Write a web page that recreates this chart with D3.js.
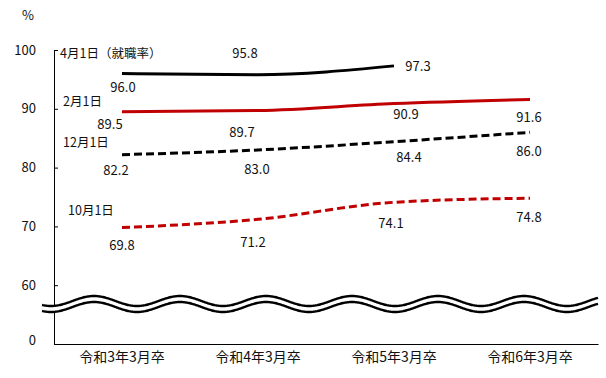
<!DOCTYPE html>
<html><head><meta charset="utf-8">
<script src="https://cdn.jsdelivr.net/npm/d3@7"></script>
<style>
body{margin:0;background:#fff;}
text{font-family:"Noto Sans CJK JP","Noto Sans",sans-serif;fill:#111;}
</style></head>
<body><svg id="c" width="606" height="378"></svg>
<script>
// ---- data ----
const categories = ["令和3年3月卒","令和4年3月卒","令和5年3月卒","令和6年3月卒"];
const seriesNames = ["4月1日（就職率）","2月1日","12月1日","10月1日"];
const apr1 = [96.0, 95.8, 97.3, null];
const feb1 = [89.5, 89.7, 90.9, 91.6];
const dec1 = [82.2, 83.0, 84.4, 86.0];
const oct1 = [69.8, 71.2, 74.1, 74.8];
const yTickValues = [50, 60, 70, 80, 90, 100];
const yTickLabels = ["0", "60", "70", "80", "90", "100"];
const yUnit = "%";

// ---- layout / style (not data) ----
const svg = d3.select("#c");
const x = d3.scaleBand().domain(categories).range([54, 598]).padding(0);
const y = d3.scaleLinear().domain([50, 100]).range([344, 50]);
const cx = c => x(c) + x.bandwidth() / 2;

const series = [
  {name: seriesNames[0], values: apr1, color: "#000", dash: null,
   nameX: 60, nameY: 54,
   off: [[1,14],[-13,-21],[24,1],null]},
  {name: seriesNames[1], values: feb1, color: "#c00000", dash: null,
   nameX: 63, nameY: 102,
   off: [[-12,13],[-16,22],[12,11],[-1,18]]},
  {name: seriesNames[2], values: dec1, color: "#000", dash: "8,4",
   nameX: 63, nameY: 143,
   off: [[-6,16],[-1,19],[15,16],[-1,19]]},
  {name: seriesNames[3], values: oct1, color: "#c00000", dash: "8,4",
   nameX: 68, nameY: 211,
   off: [[0,18],[-5,23],[-3,21],[-1,19]]}
];

// y axis
const yAxis = d3.axisLeft(y).tickValues(yTickValues)
  .tickFormat((d,i) => yTickLabels[i]).tickSizeInner(-4).tickSizeOuter(-4).tickPadding(18);
const gy = svg.append("g").attr("transform","translate(54,0)").call(yAxis);
gy.selectAll("path,line").attr("stroke","#000").attr("stroke-width",1);
gy.selectAll("text").style("font-size","13px").attr("fill","#111")
  .attr("dy", d => d === 50 ? "0.05em" : "0.32em");

// x axis
const xAxis = d3.axisBottom(x).tickSize(0).tickPadding(8);
const gx = svg.append("g").attr("transform","translate(0,344)").call(xAxis);
gx.select(".domain").attr("stroke","#000").attr("stroke-width",1.2);
gx.selectAll("text").style("font-size","14px").attr("fill","#111");

// unit
svg.append("text").attr("x", 28).attr("y", 15).attr("dy","0.35em")
  .attr("text-anchor","middle").style("font-size","13px").text(yUnit);

// axis break wave
const wx = d3.range(42, 598.5, 1);
const waveY = (px, base) => base - 5 * Math.cos(2 * Math.PI * (px - 94) / 86);
const upper = wx.map(px => [px, waveY(px, 301)]);
const lower = wx.map(px => [px, waveY(px, 307)]);
svg.append("path")
  .attr("d", "M" + upper.map(p=>p.join(",")).join("L") + "L" + lower.slice().reverse().map(p=>p.join(",")).join("L") + "Z")
  .attr("fill","#fff");
[upper, lower].forEach(pts => {
  svg.append("path").attr("d", d3.line()(pts))
    .attr("fill","none").attr("stroke","#000").attr("stroke-width",2.4);
});

// lines
const line = d3.line()
  .defined(d => d.v != null)
  .x(d => cx(d.c)).y(d => y(d.v))
  .curve(d3.curveMonotoneX);

series.forEach(s => {
  const pts = categories.map((c,i) => ({c, v: s.values[i]}));
  svg.append("path").datum(pts).attr("d", line)
    .attr("fill","none").attr("stroke", s.color).attr("stroke-width",3)
    .attr("stroke-dasharray", s.dash);
  pts.forEach((p,i) => {
    if (p.v == null) return;
    svg.append("text")
      .attr("x", cx(p.c) + s.off[i][0]).attr("y", y(p.v) + s.off[i][1])
      .attr("dy","0.35em").attr("text-anchor","middle")
      .style("font-size","13px").text(p.v.toFixed(1));
  });
  svg.append("text").attr("x", s.nameX).attr("y", s.nameY).attr("dy","0.35em")
    .style("font-size","12.5px").text(s.name);
});
</script></body></html>
